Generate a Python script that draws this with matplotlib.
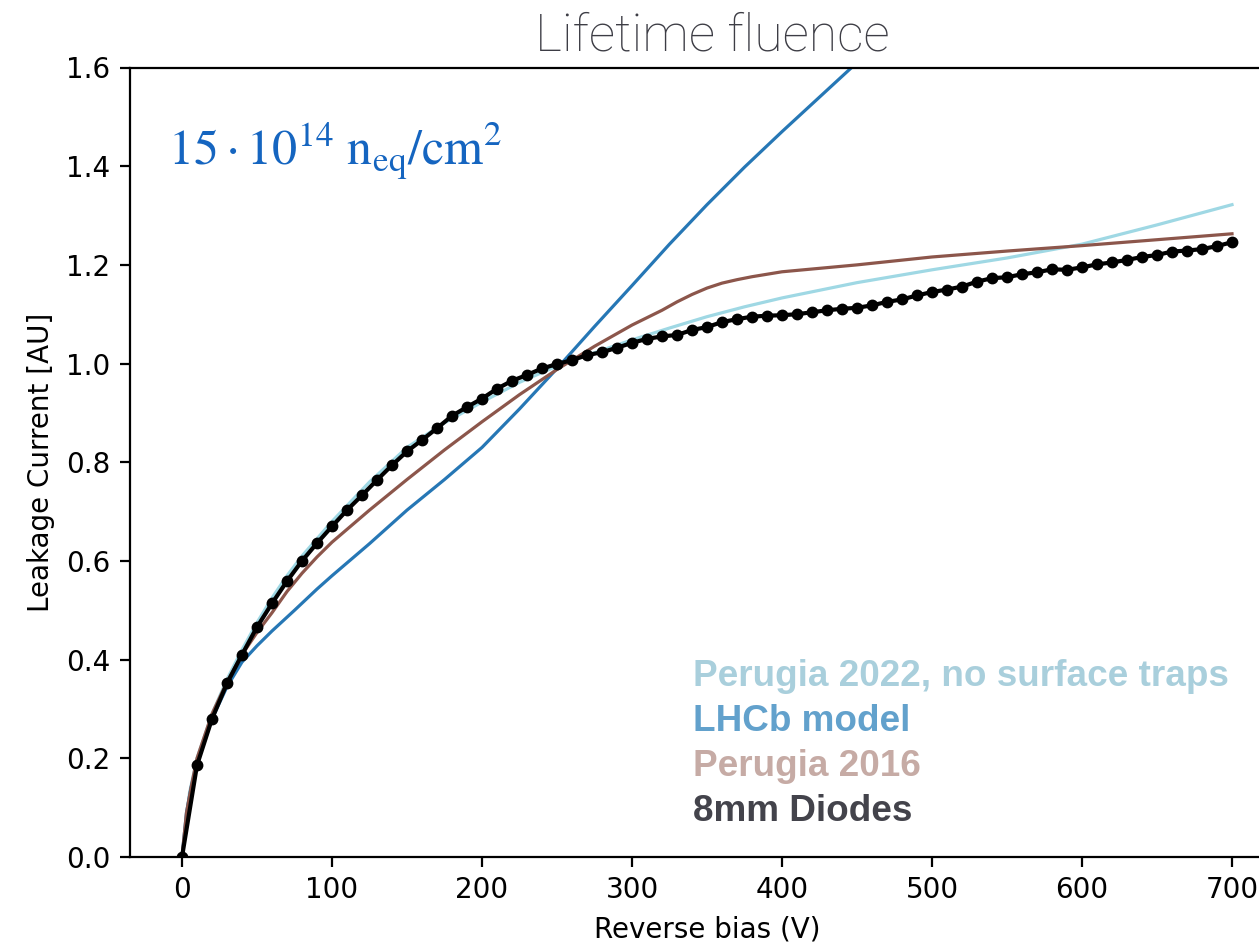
import matplotlib
matplotlib.use("Agg")
import matplotlib.pyplot as plt

# ---- data ----
diode_v = list(range(0, 701, 10))
diode_i = [0.0, 0.186, 0.28, 0.352, 0.41, 0.466, 0.514, 0.559, 0.60, 0.636,
           0.67, 0.703, 0.733, 0.764, 0.794, 0.822, 0.845, 0.869, 0.894, 0.912,
           0.929, 0.949, 0.965, 0.977, 0.990, 0.999, 1.007, 1.017, 1.023, 1.032,
           1.042, 1.050, 1.055, 1.058, 1.068, 1.074, 1.084, 1.090, 1.095, 1.097,
           1.098, 1.100, 1.104, 1.108, 1.111, 1.113, 1.118, 1.125, 1.130, 1.138,
           1.145, 1.150, 1.156, 1.166, 1.173, 1.175, 1.181, 1.185, 1.191, 1.190,
           1.195, 1.201, 1.205, 1.210, 1.216, 1.220, 1.227, 1.229, 1.232, 1.238,
           1.246]

p2022_v = [0, 5, 10, 20, 30, 40, 50, 60, 70, 80, 100, 125, 150, 175, 200, 225,
           250, 275, 300, 325, 350, 375, 400, 450, 500, 550, 600, 650, 700]
p2022_i = [0, 0.13, 0.2, 0.29, 0.36, 0.42, 0.475, 0.525, 0.57, 0.61, 0.68, 0.76,
           0.83, 0.88, 0.922, 0.962, 0.995, 1.022, 1.048, 1.072, 1.095, 1.115,
           1.133, 1.164, 1.19, 1.214, 1.242, 1.281, 1.322]

lhcb_v = [0, 3, 6, 10, 20, 30, 40, 50, 60, 75, 90, 100, 125, 150, 175, 200,
          225, 250, 275, 300, 325, 350, 375, 400, 425, 450]
lhcb_i = [0, 0.09, 0.14, 0.19, 0.28, 0.345, 0.395, 0.428, 0.458, 0.50, 0.543,
          0.57, 0.635, 0.703, 0.765, 0.83, 0.908, 0.99, 1.075, 1.158, 1.242,
          1.322, 1.398, 1.47, 1.54, 1.61]

p2016_v = [0, 3, 6, 10, 20, 30, 40, 50, 60, 70, 80, 90, 100, 125, 150, 175,
           200, 225, 250, 275, 300, 320, 330, 340, 350, 360, 370, 380, 400, 450,
           500, 550, 600, 650, 700]
p2016_i = [0, 0.09, 0.14, 0.2, 0.29, 0.355, 0.41, 0.455, 0.495, 0.538, 0.575,
           0.608, 0.638, 0.703, 0.765, 0.825, 0.882, 0.937, 0.988, 1.035, 1.078,
           1.108, 1.125, 1.14, 1.153, 1.163, 1.17, 1.176, 1.186, 1.2, 1.216,
           1.228, 1.239, 1.251, 1.263]

labels = ["Perugia 2022, no surface traps", "LHCb model", "Perugia 2016", "8mm Diodes"]
label_colors = ["#a9cfdc", "#62a1cc", "#c6aba5", "#43434b"]

x_ticks = [0, 100, 200, 300, 400, 500, 600, 700]
y_ticks = [0.0, 0.2, 0.4, 0.6, 0.8, 1.0, 1.2, 1.4, 1.6]

# ---- figure ----
fig = plt.figure(figsize=(12.59 / 2, 9.43 / 2), dpi=200)
W, H = 1259, 943
left_px, right_px = 129.5, 1284.5
top_px, bot_px = 67.5, 857
ax = fig.add_axes([left_px / W, (H - bot_px) / H,
                   (right_px - left_px) / W, (bot_px - top_px) / H])

ax.plot(p2022_v, p2022_i, color="#9fd8e4", lw=1.15, zorder=2)
ax.plot(lhcb_v, lhcb_i, color="#2677b5", lw=1.15, zorder=2)
ax.plot(p2016_v, p2016_i, color="#8c564b", lw=1.15, zorder=2)
ax.plot(diode_v, diode_i, color="black", lw=1.5, marker=".", ms=6.5, zorder=3)

ax.set_xlim(-35, 735)
ax.set_ylim(0, 1.6)
ax.set_xticks(x_ticks)
ax.set_yticks(y_ticks)
ax.set_yticklabels([f"{v:.1f}" for v in y_ticks])
ax.set_xlabel("Reverse bias (V)")
ax.set_ylabel("Leakage Current [AU]")

ax.set_title("Lifetime fluence", fontsize=18.7, color="#3d3d45", x=0.505,
             family=["Roboto", "Lato", "DejaVu Sans"], fontweight="light")

ax.text(0.0333, 0.8765, r"$15\cdot10^{14}\ \mathrm{n_{eq}/cm^{2}}$",
        transform=ax.transAxes, fontsize=18, color="#1565c0",
        math_fontfamily="stix", va="baseline", ha="left")

ys = [0.2166, 0.1596, 0.1026, 0.0456]
for lab, col, yy in zip(labels, label_colors, ys):
    ax.text(0.488, yy, lab, transform=ax.transAxes, fontsize=13.3,
            color=col, fontweight="bold", family=["Liberation Sans", "DejaVu Sans"],
            va="baseline", ha="left")

fig.savefig("out.png", dpi=200)
